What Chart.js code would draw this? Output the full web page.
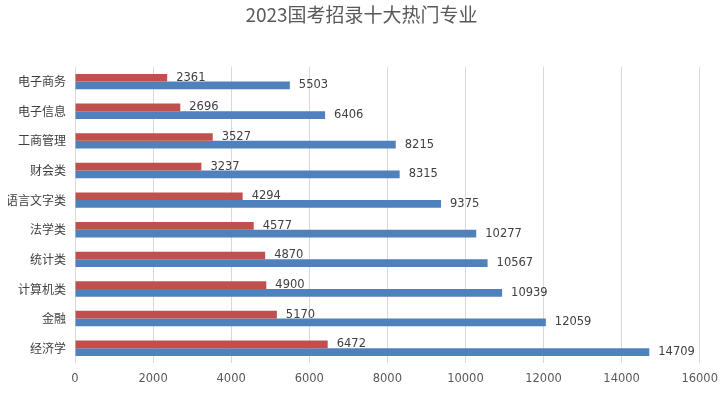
<!DOCTYPE html>
<html>
<head>
<meta charset="utf-8">
<script src="https://cdn.jsdelivr.net/npm/chart.js@4/dist/chart.umd.min.js"></script>
<style>
  html, body { margin: 0; padding: 0; background: #fff; }
  #wrap { width: 727px; height: 395px; }
</style>
</head>
<body>
<div id="wrap"><canvas id="chart" width="727" height="395"></canvas></div>
<script>
// --- Data ---
const majors = ['电子商务', '电子信息', '工商管理', '财会类', '语言文字类', '法学类', '统计类', '计算机类', '金融', '经济学'];
const redValues = [2361, 2696, 3527, 3237, 4294, 4577, 4870, 4900, 5170, 6472];
const blueValues = [5503, 6406, 8215, 8315, 9375, 10277, 10567, 10939, 12059, 14709];
const xTicks = [0, 2000, 4000, 6000, 8000, 10000, 12000, 14000, 16000];

const numFont = '"DejaVu Sans", "Noto Sans", sans-serif';
const cjkFont = '"Noto Sans CJK SC", "Noto Sans", sans-serif';

// draws the value next to the end of each bar
const valueLabels = {
    id: 'valueLabels',
    afterDatasetsDraw(chart) {
        const ctx = chart.ctx;
        ctx.save();
        ctx.font = '11.5px ' + numFont;
        ctx.fillStyle = '#404040';
        ctx.textBaseline = 'middle';
        ctx.textAlign = 'left';
        chart.data.datasets.forEach((ds, i) => {
            chart.getDatasetMeta(i).data.forEach((bar, j) => {
                ctx.fillText(String(ds.data[j]), bar.x + 9, bar.y);
            });
        });
        ctx.restore();
    }
};

new Chart(document.getElementById('chart'), {
    type: 'bar',
    data: {
        labels: majors,
        datasets: [{
            data: redValues,
            backgroundColor: '#C0504D',
            borderWidth: 0
        }, {
            data: blueValues,
            backgroundColor: '#4F81BD',
            borderWidth: 0
        }]
    },
    options: {
        indexAxis: 'y',
        responsive: false,
        animation: false,
        categoryPercentage: 0.52,
        barPercentage: 1.0,
        layout: { padding: { left: 8, right: 12, top: 0, bottom: 0 } },
        plugins: {
            legend: { display: false },
            tooltip: { enabled: false },
            title: {
                display: true,
                text: '2023国考招录十大热门专业',
                color: '#595959',
                font: { family: cjkFont, size: 19, weight: 'normal' },
                padding: { top: 3, bottom: 41 }
            }
        },
        scales: {
            x: {
                min: 0,
                max: 16000,
                afterBuildTicks: (axis) => { axis.ticks = xTicks.map(v => ({ value: v })); },
                afterFit: (axis) => { axis.height = 32; },
                grid: { color: '#d9d9d9', drawTicks: false },
                border: { display: false },
                ticks: {
                    color: '#595959',
                    padding: 9,
                    font: { family: numFont, size: 11.5 },
                    callback: (v) => String(v)
                }
            },
            y: {
                afterFit: (axis) => { axis.width = 67; },
                grid: { display: false, drawTicks: false, tickLength: 0 },
                border: { display: false },
                ticks: {
                    color: '#404040',
                    padding: 9,
                    font: { family: cjkFont, size: 12 }
                }
            }
        }
    },
    plugins: [valueLabels]
});
</script>
</body>
</html>
